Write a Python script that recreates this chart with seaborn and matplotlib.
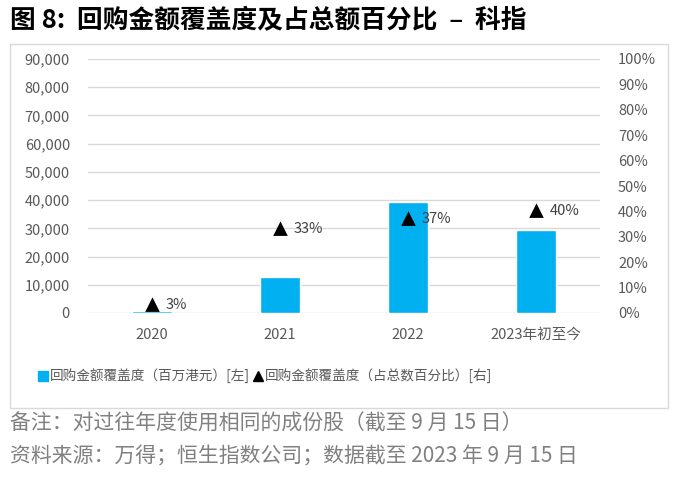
import pandas as pd
import matplotlib.pyplot as plt
import seaborn as sns
from matplotlib.patches import Rectangle
from matplotlib.lines import Line2D
from matplotlib.ticker import FuncFormatter

# --- veriler ---
kategoriler = ["2020", "2021", "2022", "2023年初至今"]
tutar = [600, 12700, 39200, 29400]      # 百万港元 [左]
oran = [3, 33, 37, 40]                  # 占总数百分比 [右]

baslik = "图 8:  回购金额覆盖度及占总额百分比  –  科指"
lejant_bar = "回购金额覆盖度（百万港元）[左]"
lejant_ucgen = "回购金额覆盖度（占总数百分比）[右]"
not1 = "备注：对过往年度使用相同的成份股（截至 9 月 15 日）"
not2 = "资料来源：万得；恒生指数公司；数据截至 2023 年 9 月 15 日"

df = pd.DataFrame({"kategori": kategoriler, "tutar": tutar, "oran": oran})

sns.set_theme(style="white")
plt.rcParams["font.family"] = ["Noto Sans CJK SC", "DejaVu Sans"]

gri = "#595959"
mavi = "#00B0F0"

fig = plt.figure(figsize=(6.78, 4.84), dpi=100)
ax = fig.add_axes([88 / 678, 1 - 313 / 484, 512 / 678, 254 / 484])

# cerceve
fig.patches.append(Rectangle((10 / 678, 1 - 408 / 484), 658 / 678, 364 / 484,
                             transform=fig.transFigure, fill=False,
                             edgecolor="#D9D9D9", linewidth=1.0, zorder=0))

sns.barplot(data=df, x="kategori", y="tutar", color=mavi, width=0.31,
            saturation=1, ax=ax, zorder=3)
ax.set_ylim(0, 90000)
ax.set_yticks(range(0, 90001, 10000))
ax.yaxis.set_major_formatter(FuncFormatter(lambda v, p: f"{int(v):,}"))
ax.grid(axis="y", color="#D9D9D9", linewidth=1.0, zorder=0)
ax.set_axisbelow(True)
ax.set_xlabel("")
ax.set_ylabel("")
for s in ax.spines.values():
    s.set_visible(False)
ax.tick_params(axis="y", colors=gri, labelsize=10.5, length=0, pad=13)
ax.tick_params(axis="x", colors=gri, labelsize=10.5, length=0, pad=11)

ax2 = ax.twinx()
sns.pointplot(data=df, x="kategori", y="oran", linestyles="none", markers="^",
              color="black", markersize=7, ax=ax2)
ax2.set_ylim(0, 100)
ax2.set_yticks(range(0, 101, 10))
ax2.yaxis.set_major_formatter(FuncFormatter(lambda v, p: f"{int(v)}%"))
ax2.set_ylabel("")
for s in ax2.spines.values():
    s.set_visible(False)
ax2.tick_params(axis="y", colors=gri, labelsize=10.5, length=0, pad=13)

for i, v in enumerate(oran):
    ax2.annotate(f"{v}%", (i, v), xytext=(10, 0), textcoords="offset points",
                 va="center", ha="left", fontsize=10.5, color="#404040")

fig.text(10 / 678, 1 - 21 / 484, baslik, fontsize=18.5, fontweight="bold",
         color="black", va="center", ha="left")

kulplar = [
    Line2D([], [], marker="s", linestyle="none", color=mavi, markersize=7),
    Line2D([], [], marker="^", linestyle="none", color="black", markersize=7),
]
fig.legend(kulplar, [lejant_bar, lejant_ucgen], loc="center left",
           bbox_to_anchor=(38 / 678, 1 - 376 / 484), ncol=2, frameon=False,
           fontsize=9.8, labelcolor=gri, handlelength=0.7, handletextpad=0.15,
           columnspacing=0.3, borderaxespad=0, borderpad=0)

fig.text(10 / 678, 1 - 424 / 484, not1, fontsize=15, color="#808080",
         va="center", ha="left")
fig.text(10 / 678, 1 - 456 / 484, not2, fontsize=15, color="#808080",
         va="center", ha="left")

fig.savefig("out.png", dpi=100, facecolor="white")
